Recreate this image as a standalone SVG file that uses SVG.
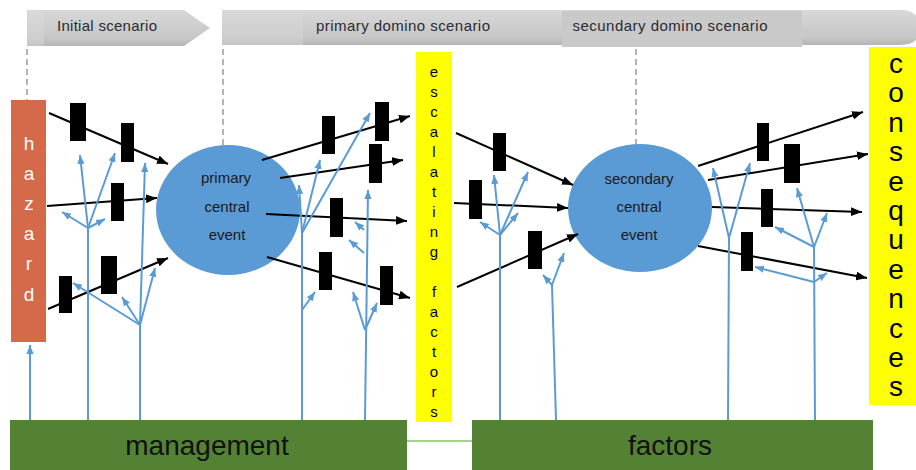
<svg xmlns="http://www.w3.org/2000/svg" width="916" height="470" viewBox="0 0 916 470">
<style>
.ban{font-family:"Liberation Sans",Arial,sans-serif;font-size:15px;fill:#2b2b33;text-anchor:middle}
.ct{font-family:"Liberation Sans",Arial,sans-serif;font-size:15px;fill:#1a1a1a;text-anchor:middle}
.hz{font-family:"Liberation Sans",Arial,sans-serif;font-size:19px;fill:#ffffff;text-anchor:middle}
.esc{font-family:"Liberation Sans",Arial,sans-serif;font-size:15px;fill:#000;text-anchor:middle}
.cons{font-family:"Liberation Sans",Arial,sans-serif;font-size:28px;fill:#000;text-anchor:middle}
.big{font-family:"Liberation Sans",Arial,sans-serif;font-size:28px;fill:#111;text-anchor:middle}
.blk{stroke:#000;stroke-width:2;fill:none;marker-end:url(#ab)}
.blu{stroke:#5b9bd5;stroke-width:2;fill:none}
.bla{stroke:#5b9bd5;stroke-width:2;fill:none;marker-end:url(#au)}
.bar{fill:#000}
.dash{stroke:#b3b3b3;stroke-width:2;stroke-dasharray:6 4;fill:none}
</style>
<defs>
<linearGradient id="gb" x1="0" y1="0" x2="0" y2="1">
<stop offset="0" stop-color="#d8d8d8"/>
<stop offset="0.8" stop-color="#c6c6c6"/>
<stop offset="1" stop-color="#b5b5b5"/>
</linearGradient>
<marker id="ab" viewBox="0 0 10 8" refX="10" refY="4" markerWidth="11" markerHeight="9" markerUnits="userSpaceOnUse" orient="auto">
<path d="M0,0 L10,4 L0,8 z" fill="#000"/>
</marker>
<marker id="au" viewBox="0 0 10 8" refX="10" refY="4" markerWidth="9" markerHeight="8" markerUnits="userSpaceOnUse" orient="auto">
<path d="M0,0 L10,4 L0,8 z" fill="#5b9bd5"/>
</marker>
</defs>
<rect width="916" height="470" fill="#ffffff"/>

<g id="banner-initial">
<path d="M27,10 L184,10 L210,28 L184,46 L27,46 Z" fill="url(#gb)"/>
<rect x="27" y="10" width="17" height="36" fill="#dcdcdc" opacity="0.4"/>
<text class="ban" x="107" y="31" textLength="100" lengthAdjust="spacing">Initial scenario</text>
</g>
<g id="banner-primary">
<path d="M222,10 L900,10 Q916,10 920,22 L920,34 Q916,45 900,45 L222,45 Z" fill="url(#gb)"/>
<rect x="222" y="10" width="81" height="35" fill="#dadada" opacity="0.4"/>
<text class="ban" x="403" y="31" textLength="174" lengthAdjust="spacing">primary domino scenario</text>
</g>
<g id="banner-secondary">
<rect x="562" y="11" width="240" height="36" fill="#c9c9c9"/>
<text class="ban" x="670" y="31" textLength="195" lengthAdjust="spacing">secundary domino scenario</text>
</g>

<g id="guides">
<line class="dash" x1="27" y1="49" x2="27" y2="100"/>
<line class="dash" x1="223" y1="49" x2="223" y2="146"/>
<line class="dash" x1="636" y1="49" x2="636" y2="146"/>
</g>

<g id="hazard">
<rect x="11" y="100" width="35" height="242" fill="#d46a4a"/>
<text class="hz" x="29" y="150">h</text>
<text class="hz" x="29" y="180">a</text>
<text class="hz" x="29" y="210">z</text>
<text class="hz" x="29" y="240">a</text>
<text class="hz" x="29" y="270">r</text>
<text class="hz" x="29" y="301">d</text>
</g>

<g id="primary-central-event">
<ellipse cx="228" cy="210" rx="72" ry="65" fill="#5b9bd5"/>
<text class="ct" x="226" y="183">primary</text>
<text class="ct" x="227" y="212">central</text>
<text class="ct" x="227" y="240">event</text>
</g>

<g id="secondary-central-event">
<ellipse cx="640" cy="208" rx="72" ry="64" fill="#5b9bd5"/>
<text class="ct" x="639" y="184">secondary</text>
<text class="ct" x="639" y="212">central</text>
<text class="ct" x="639" y="240">event</text>
</g>

<g id="escalating-factors">
<rect x="416" y="52" width="36" height="370" fill="#ffff00"/>
<text class="esc" x="434" y="77">e</text>
<text class="esc" x="434" y="97">s</text>
<text class="esc" x="434" y="117">c</text>
<text class="esc" x="434" y="137">a</text>
<text class="esc" x="434" y="157">l</text>
<text class="esc" x="434" y="177">a</text>
<text class="esc" x="434" y="197">t</text>
<text class="esc" x="434" y="217">i</text>
<text class="esc" x="434" y="237">n</text>
<text class="esc" x="434" y="257">g</text>
<text class="esc" x="434" y="297">f</text>
<text class="esc" x="434" y="317">a</text>
<text class="esc" x="434" y="337">c</text>
<text class="esc" x="434" y="357">t</text>
<text class="esc" x="434" y="377">o</text>
<text class="esc" x="434" y="397">r</text>
<text class="esc" x="434" y="417">s</text>
</g>

<g id="consequences">
<rect x="869" y="47" width="47" height="358" fill="#ffff00"/>
<text class="cons" x="896" y="73">c</text>
<text class="cons" x="896" y="102">o</text>
<text class="cons" x="896" y="132">n</text>
<text class="cons" x="896" y="161">s</text>
<text class="cons" x="896" y="191">e</text>
<text class="cons" x="896" y="220">q</text>
<text class="cons" x="896" y="249">u</text>
<text class="cons" x="896" y="279">e</text>
<text class="cons" x="896" y="308">n</text>
<text class="cons" x="896" y="338">c</text>
<text class="cons" x="896" y="367">e</text>
<text class="cons" x="896" y="396">s</text>
</g>

<g id="connectors">
<line x1="406" y1="441" x2="473" y2="441" stroke="#a9d18e" stroke-width="2"/>
<path class="blk" d="M49,113 L168,164"/>
<path class="blk" d="M47,206 L157,198"/>
<path class="blk" d="M48,309 L168,258"/>
<path class="blk" d="M262,160 L410,116"/>
<path class="blk" d="M280,178 L403,160"/>
<path class="blk" d="M266,214 L407,221"/>
<path class="blk" d="M267,257 L410,298"/>
<path class="blk" d="M456,133 L573,185"/>
<path class="blk" d="M454,203 L568,208"/>
<path class="blk" d="M457,287 L578,234"/>
<path class="blk" d="M698,166 L863,112"/>
<path class="blk" d="M708,180 L868,154"/>
<path class="blk" d="M712,207 L862,212"/>
<path class="blk" d="M698,246 L867,278"/>
<path class="bla" d="M30,420 L30,345"/>
<path class="blu" d="M88,420 L88,228"/>
<path class="bla" d="M88,228 L80,155"/>
<path class="bla" d="M88,228 L115,153"/>
<path class="bla" d="M88,228 L62,212"/>
<path class="bla" d="M88,228 L105,219"/>
<path class="blu" d="M140,420 L140,325"/>
<path class="bla" d="M140,325 L145,163"/>
<path class="bla" d="M140,325 L155,268"/>
<path class="bla" d="M140,325 L122,297"/>
<path class="bla" d="M140,325 L73,283"/>
<path class="blu" d="M302,420 L302,233"/>
<path class="bla" d="M302,233 L320,160"/>
<path class="bla" d="M302,233 L370,113"/>
<path class="bla" d="M302,233 L299,185"/>
<path class="bla" d="M302,310 L315,292"/>
<path class="bla" d="M365,420 L368,190"/>
<path class="bla" d="M364,230 L355,222"/>
<path class="bla" d="M364,253 L349,240"/>
<path class="bla" d="M365,330 L353,292"/>
<path class="bla" d="M365,330 L377,303"/>
<path class="blu" d="M500,420 L500,235"/>
<path class="bla" d="M500,235 L494,175"/>
<path class="bla" d="M500,235 L528,172"/>
<path class="bla" d="M500,235 L518,213"/>
<path class="bla" d="M500,235 L480,222"/>
<path class="blu" d="M556,420 L552,285"/>
<path class="bla" d="M552,285 L543,275"/>
<path class="bla" d="M552,285 L564,253"/>
<path class="blu" d="M728,420 L729,238"/>
<path class="bla" d="M729,238 L713,168"/>
<path class="bla" d="M729,238 L750,163"/>
<path class="blu" d="M815,420 L814,247"/>
<path class="bla" d="M814,247 L797,188"/>
<path class="bla" d="M814,247 L827,213"/>
<path class="bla" d="M814,247 L775,227"/>
<path class="bla" d="M814,282 L755,267"/>
<path class="bla" d="M814,282 L827,273"/>
</g>

<g id="barriers">
<rect id="b1" class="bar" x="70" y="103" width="16" height="38"/>
<rect id="b2" class="bar" x="121" y="123" width="13" height="39"/>
<rect id="b3" class="bar" x="111" y="183" width="13" height="38"/>
<rect id="b4" class="bar" x="101" y="256" width="16" height="38"/>
<rect id="b5" class="bar" x="59" y="276" width="13" height="37"/>
<rect id="b6" class="bar" x="322" y="116" width="13" height="38"/>
<rect id="b7" class="bar" x="375" y="102" width="14" height="39"/>
<rect id="b8" class="bar" x="369" y="144" width="13" height="39"/>
<rect id="b9" class="bar" x="330" y="198" width="13" height="39"/>
<rect id="b10" class="bar" x="319" y="252" width="13" height="38"/>
<rect id="b11" class="bar" x="380" y="266" width="13" height="39"/>
<rect id="b12" class="bar" x="493" y="133" width="13" height="38"/>
<rect id="b13" class="bar" x="469" y="180" width="13" height="39"/>
<rect id="b14" class="bar" x="528" y="231" width="14" height="38"/>
<rect id="b15" class="bar" x="757" y="123" width="12" height="38"/>
<rect id="b16" class="bar" x="784" y="144" width="16" height="39"/>
<rect id="b17" class="bar" x="761" y="189" width="12" height="38"/>
<rect id="b18" class="bar" x="741" y="232" width="12" height="39"/>
</g>

<g id="management">
<rect x="10" y="420" width="397" height="52" fill="#548235"/>
<text class="big" x="207" y="455">management</text>
</g>
<g id="factors">
<rect x="472" y="420" width="401" height="52" fill="#548235"/>
<text class="big" x="670" y="455">factors</text>
</g>
</svg>
